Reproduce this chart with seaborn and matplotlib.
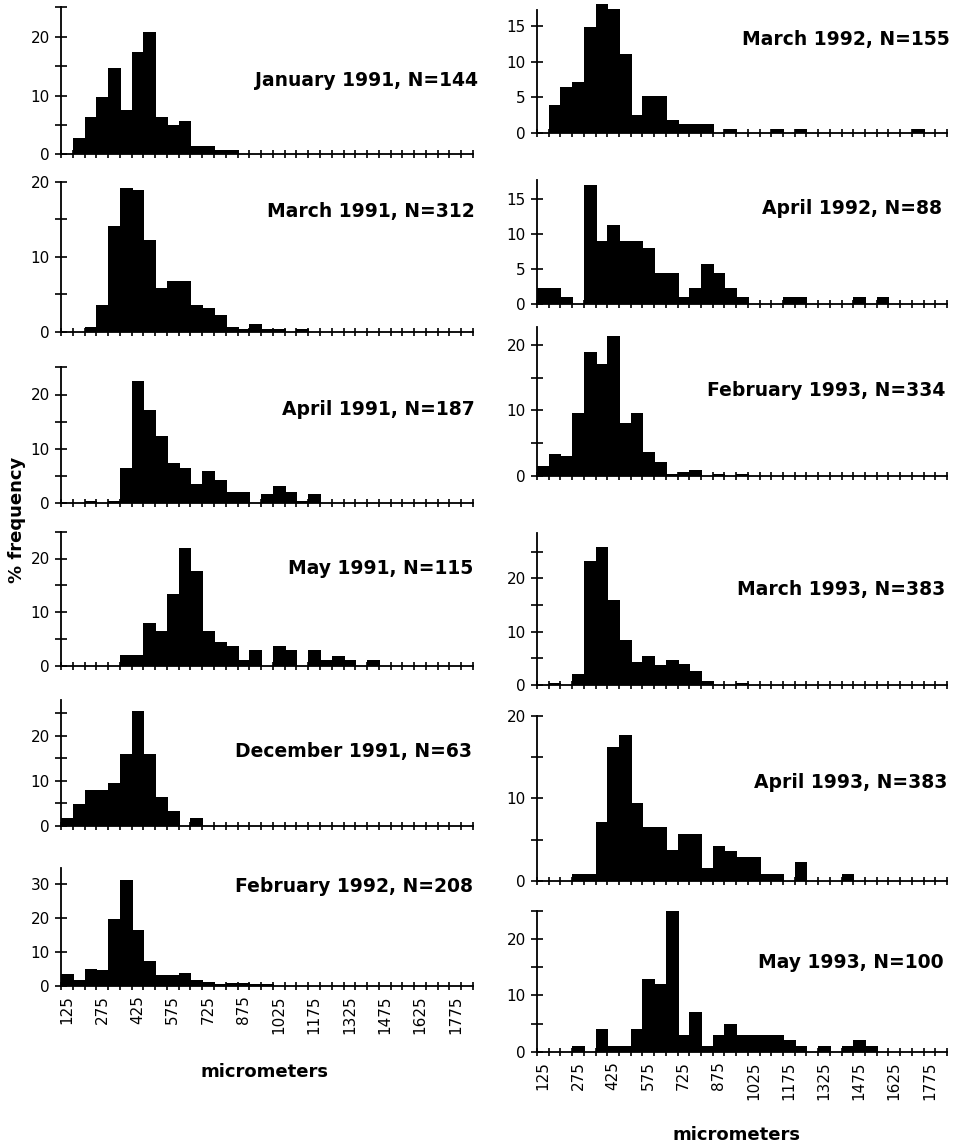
import matplotlib
matplotlib.use("Agg")
import matplotlib.pyplot as plt
import seaborn as sns
from matplotlib.ticker import FixedLocator

sns.set_style("white")
plt.rcParams["font.family"] = ["DejaVu Sans"]
plt.rcParams["text.color"] = "black"
plt.rcParams["xtick.color"] = "black"
plt.rcParams["ytick.color"] = "black"
plt.rcParams["axes.labelcolor"] = "black"

# ---------------- data ----------------
bin_centers = [125, 175, 225, 275, 325, 375, 425, 475, 525, 575, 625, 675, 725,
               775, 825, 875, 925, 975, 1025, 1075, 1125, 1175, 1225, 1275, 1325,
               1375, 1425, 1475, 1525, 1575, 1625, 1675, 1725, 1775, 1825]
bin_edges = [100, 150, 200, 250, 300, 350, 400, 450, 500, 550, 600, 650, 700, 750,
             800, 850, 900, 950, 1000, 1050, 1100, 1150, 1200, 1250, 1300, 1350,
             1400, 1450, 1500, 1550, 1600, 1650, 1700, 1750, 1800, 1850]
tick_values = [125, 275, 425, 575, 725, 875, 1025, 1175, 1325, 1475, 1625, 1775]
tick_labels = ["125", "275", "425", "575", "725", "875", "1025", "1175", "1325",
               "1475", "1625", "1775"]

jan91 = [0, 2.8, 6.3, 9.7, 14.6, 7.6, 17.4, 20.8, 6.3, 4.9, 5.6, 1.4, 1.4, 0.7, 0.7,
         0, 0, 0, 0, 0, 0, 0, 0, 0, 0, 0, 0, 0, 0, 0, 0, 0, 0, 0, 0]
mar91 = [0, 0, 0.6, 3.5, 14.1, 19.2, 18.9, 12.2, 5.8, 6.7, 6.7, 3.5, 3.2, 2.2, 0.6,
         0.3, 1.0, 0.3, 0.3, 0, 0.3, 0, 0, 0, 0, 0, 0, 0, 0, 0, 0, 0, 0, 0, 0]
apr91 = [0, 0, 0.5, 0, 0.5, 6.4, 22.5, 17.1, 12.3, 7.5, 6.4, 3.5, 5.9, 4.3, 2.1,
         2.1, 0, 1.8, 3.2, 2.1, 0.5, 1.8, 0, 0, 0, 0, 0, 0, 0, 0, 0, 0, 0, 0, 0]
may91 = [0, 0, 0, 0, 0, 2.0, 2.0, 8.0, 6.4, 13.3, 22.0, 17.6, 6.4, 4.5, 3.6,
         1.1, 3.0, 0, 3.6, 3.0, 0, 3.0, 1.1, 1.9, 1.1, 0, 1.0, 0, 0, 0, 0, 0, 0, 0, 0]
dec91 = [1.7, 4.9, 7.9, 7.9, 9.6, 15.9, 25.4, 15.9, 6.4, 3.3, 0, 1.7,
         0, 0, 0, 0, 0, 0, 0, 0, 0, 0, 0, 0, 0, 0, 0, 0, 0, 0, 0, 0, 0, 0, 0]
feb92 = [3.4, 1.8, 5.0, 4.6, 19.7, 31.3, 16.4, 7.3, 3.2, 3.2, 3.8, 1.8, 1.2, 0.5,
         0.8, 0.8, 0.5, 0.5, 0, 0, 0, 0, 0, 0, 0, 0, 0, 0, 0, 0, 0, 0, 0, 0, 0]
mar92 = [0, 3.9, 6.5, 7.1, 14.8, 18.1, 17.4, 11.0, 2.6, 5.2, 5.2, 1.9, 1.3, 1.3,
         1.3, 0, 0.65, 0, 0, 0, 0.65, 0, 0.65, 0, 0, 0, 0, 0, 0, 0, 0, 0, 0.65, 0, 0]
apr92 = [2.3, 2.3, 1.1, 0, 17.0, 9.1, 11.4, 9.1, 9.1, 8.0, 4.5, 4.5, 1.1, 2.3, 5.7,
         4.5, 2.3, 1.1, 0, 0, 0, 1.1, 1.1, 0, 0, 0, 0, 1.1, 0, 1.1, 0, 0, 0, 0, 0]
feb93 = [1.5, 3.3, 3.0, 9.6, 18.9, 17.1, 21.4, 8.1, 9.6, 3.6, 2.1, 0.3, 0.6, 0.9,
         0, 0.3, 0, 0.3, 0, 0, 0, 0, 0, 0, 0, 0, 0, 0, 0, 0, 0, 0, 0, 0, 0]
mar93 = [0, 0.3, 0, 2.0, 23.3, 25.8, 15.9, 8.5, 4.4, 5.5, 3.7, 4.6, 3.9, 2.6, 0.8,
         0, 0, 0.3, 0, 0, 0, 0, 0, 0, 0, 0, 0, 0, 0, 0, 0, 0, 0, 0, 0]
apr93 = [0, 0, 0, 0.8, 0.8, 7.1, 16.2, 17.7, 9.4, 6.5, 6.5, 3.7, 5.7, 5.7, 1.6,
         4.2, 3.6, 2.9, 2.9, 0.8, 0.8, 0, 2.3, 0, 0, 0, 0.8, 0, 0, 0, 0, 0, 0, 0, 0]
may93 = [0, 0, 0, 1, 0, 4, 1, 1, 4, 13, 12, 25, 3, 7, 1, 3, 5, 3, 3, 3, 3, 2, 1,
         0, 1, 0, 1, 2, 1, 0, 0, 0, 0, 0, 0]

titles = ["January 1991, N=144", "March 1991, N=312", "April 1991, N=187",
          "May 1991, N=115", "December 1991, N=63", "February 1992, N=208",
          "March 1992, N=155", "April 1992, N=88", "February 1993, N=334",
          "March 1993, N=383", "April 1993, N=383", "May 1993, N=100"]
series = [jan91, mar91, apr91, may91, dec91, feb92,
          mar92, apr92, feb93, mar93, apr93, may93]

# ---------------- layout (pixels) ----------------
W, H = 956, 1145
col_x = {0: (61, 412), 1: (537, 410)}
# (col, top_px, bottom_px, ymax, spine_top, y_major, y_minor, title_x, title_y)
layout = [
    (0, 7.3, 154.3, 25, 25, [0, 10, 20], [5, 15, 25], 478, 80),
    (0, 181.7, 331.7, 20, 20, [0, 10, 20], [5, 15], 475, 212),
    (0, 367.3, 503.3, 25, 25, [0, 10, 20], [5, 15, 25], 475, 410),
    (0, 531.7, 665.7, 25, 25, [0, 10, 20], [5, 15, 25], 473, 569),
    (0, 700, 826, 27.9, 27.9, [0, 10, 20], [5, 15, 25], 472, 752),
    (0, 868.3, 985.7, 34.8, 34.8, [0, 10, 20, 30], [], 473, 887),
    (1, 3.5, 133.3, 18.1, 17.2, [0, 5, 10, 15], [], 950, 40),
    (1, 178.3, 304.3, 18, 17.8, [0, 5, 10, 15], [], 942, 209),
    (1, 326.7, 475.7, 22.8, 22.8, [0, 10, 20], [5, 15], 945, 391),
    (1, 533, 685, 28.5, 28.5, [0, 10, 20], [5, 15, 25], 945, 590),
    (1, 716, 880.7, 20, 20, [0, 10, 20], [5, 15], 947, 782),
    (1, 911, 1051.7, 25, 25, [0, 10, 20], [5, 15, 25], 944, 962),
]
bottom_panels = {5, 11}

fig = plt.figure(figsize=(W / 100, H / 100), dpi=100)

for i, (vals, title, lay) in enumerate(zip(series, titles, layout)):
    col, top, bot, ymax, spine_top, ymaj, ymin, tx, ty = lay
    x0, w = col_x[col]
    ax = fig.add_axes([x0 / W, 1 - bot / H, w / W, (bot - top) / H])
    sns.histplot(x=bin_centers, weights=vals, bins=bin_edges, ax=ax,
                 color="black", edgecolor="black", linewidth=0.5, alpha=1,
                 antialiased=False, joinstyle="miter")
    ax.set_xlim(100, 1850)
    ax.set_ylim(0, ymax)
    ax.set_xlabel("")
    ax.set_ylabel("")
    ax.set_facecolor("none")
    for s in ("top", "right"):
        ax.spines[s].set_visible(False)
    for s in ("left", "bottom"):
        ax.spines[s].set_linewidth(1.3)
        ax.spines[s].set_color("black")
    ax.spines["left"].set_bounds(0, spine_top)

    ax.xaxis.set_major_locator(FixedLocator(tick_values))
    ax.xaxis.set_minor_locator(FixedLocator(bin_edges))
    if i in bottom_panels:
        ax.set_xticklabels(tick_labels)
    else:
        ax.set_xticklabels([])
    ax.tick_params(axis="x", which="both", bottom=True, top=False)
    ax.tick_params(axis="y", which="both", left=True, right=False)
    ax.tick_params(axis="x", which="major", length=0, pad=7, labelsize=11,
                   labelrotation=90, labelcolor="black")
    ax.tick_params(axis="x", which="minor", direction="inout", length=6,
                   width=1.2, color="black")

    ax.yaxis.set_major_locator(FixedLocator(ymaj))
    ax.yaxis.set_minor_locator(FixedLocator(ymin))
    ax.tick_params(axis="y", which="both", direction="inout", length=8,
                   width=1.2, color="black")
    ax.tick_params(axis="y", which="major", labelsize=11, pad=4,
                   labelcolor="black")

    fig.text(tx / W, 1 - ty / H, title, ha="right", va="center",
             fontsize=13.5, fontweight="bold", color="black")

fig.text(265 / W, 1 - 1072 / H, "micrometers", ha="center", va="center",
         fontsize=13, fontweight="bold", color="black")
fig.text(737 / W, 1 - 1135 / H, "micrometers", ha="center", va="center",
         fontsize=13, fontweight="bold", color="black")
fig.text(17 / W, 1 - 520 / H, "% frequency", ha="center", va="center",
         rotation=90, fontsize=13, fontweight="bold", color="black")

fig.savefig("out.png", dpi=100, facecolor="white")
